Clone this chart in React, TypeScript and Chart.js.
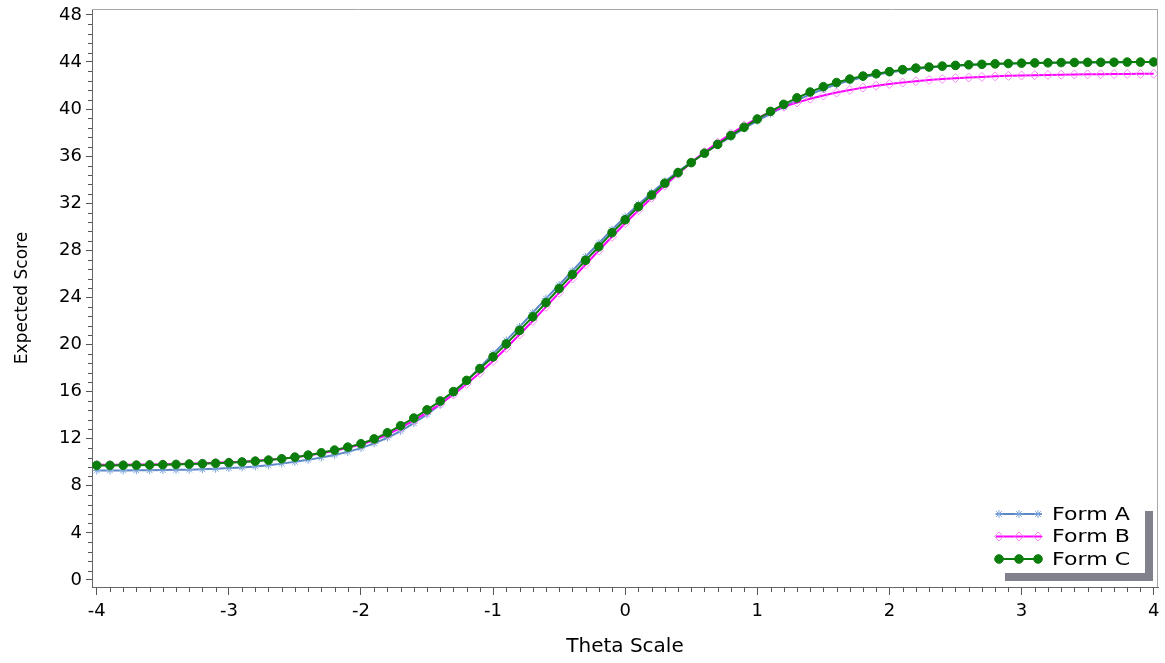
import React, { useEffect, useRef } from "react";
import { Chart, registerables } from "chart.js";
import { drawPoint } from "chart.js/helpers";

Chart.register(...registerables);

const THETA = [
  -4.0, -3.9, -3.8, -3.7, -3.6, -3.5, -3.4, -3.3, -3.2, -3.1,
  -3.0, -2.9, -2.8, -2.7, -2.6, -2.5, -2.4, -2.3, -2.2, -2.1,
  -2.0, -1.9, -1.8, -1.7, -1.6, -1.5, -1.4, -1.3, -1.2, -1.1,
  -1.0, -0.9, -0.8, -0.7, -0.6, -0.5, -0.4, -0.3, -0.2, -0.1,
  0.0, 0.1, 0.2, 0.3, 0.4, 0.5, 0.6, 0.7, 0.8, 0.9,
  1.0, 1.1, 1.2, 1.3, 1.4, 1.5, 1.6, 1.7, 1.8, 1.9,
  2.0, 2.1, 2.2, 2.3, 2.4, 2.5, 2.6, 2.7, 2.8, 2.9,
  3.0, 3.1, 3.2, 3.3, 3.4, 3.5, 3.6, 3.7, 3.8, 3.9,
  4.0,
];

const FORM_A = [
  9.30, 9.30, 9.30, 9.31, 9.32, 9.33, 9.35, 9.37, 9.40, 9.44,
  9.50, 9.56, 9.64, 9.74, 9.88, 10.03, 10.20, 10.40, 10.62, 10.88,
  11.20, 11.60, 12.08, 12.65, 13.32, 14.05, 14.90, 15.85, 16.90, 18.05,
  19.20, 20.35, 21.50, 22.70, 23.90, 25.05, 26.25, 27.45, 28.60, 29.75,
  30.85, 31.90, 32.90, 33.85, 34.70, 35.50, 36.25, 36.95, 37.65, 38.35,
  39.00, 39.60, 40.20, 40.75, 41.25, 41.70, 42.10, 42.42, 42.70, 42.92,
  43.10, 43.27, 43.41, 43.52, 43.61, 43.68, 43.74, 43.79, 43.83, 43.86,
  43.89, 43.91, 43.93, 43.94, 43.95, 43.96, 43.97, 43.98, 43.98, 43.99,
  43.99,
];

const FORM_B = [
  9.78, 9.78, 9.79, 9.80, 9.81, 9.83, 9.85, 9.88, 9.91, 9.95,
  10.00, 10.05, 10.12, 10.20, 10.30, 10.43, 10.58, 10.77, 10.98, 11.23,
  11.50, 11.88, 12.35, 12.92, 13.55, 14.22, 14.95, 15.75, 16.65, 17.60,
  18.60, 19.70, 20.85, 22.00, 23.20, 24.40, 25.60, 26.80, 27.98, 29.15,
  30.30, 31.40, 32.45, 33.50, 34.50, 35.45, 36.35, 37.15, 37.90, 38.60,
  39.20, 39.75, 40.20, 40.55, 40.87, 41.15, 41.40, 41.62, 41.82, 41.98,
  42.12, 42.25, 42.37, 42.47, 42.55, 42.62, 42.68, 42.73, 42.78, 42.82,
  42.85, 42.88, 42.90, 42.92, 42.94, 42.95, 42.96, 42.97, 42.98, 42.99,
  43.00,
];

const FORM_C = [
  9.73, 9.73, 9.74, 9.75, 9.77, 9.79, 9.81, 9.84, 9.87, 9.91,
  9.96, 10.02, 10.09, 10.18, 10.29, 10.43, 10.60, 10.80, 11.03, 11.28,
  11.57, 11.98, 12.50, 13.10, 13.75, 14.45, 15.20, 16.00, 16.95, 17.95,
  18.95, 20.05, 21.20, 22.35, 23.55, 24.75, 25.95, 27.15, 28.30, 29.50,
  30.60, 31.70, 32.70, 33.70, 34.60, 35.45, 36.25, 37.00, 37.75, 38.45,
  39.15, 39.80, 40.40, 40.95, 41.45, 41.90, 42.25, 42.55, 42.80, 43.00,
  43.18, 43.35, 43.48, 43.57, 43.65, 43.71, 43.76, 43.80, 43.84, 43.87,
  43.90, 43.92, 43.93, 43.95, 43.96, 43.97, 43.97, 43.98, 43.99, 43.99,
  44.00,
];

const SERIES_NAMES = ["Form A", "Form B", "Form C"];
const X_TICKS = [-4, -3, -2, -1, 0, 1, 2, 3, 4];
const Y_TICKS = [0, 4, 8, 12, 16, 20, 24, 28, 32, 36, 40, 44, 48];
const X_MINOR_PER_MAJOR = 10;
const Y_MINOR_PER_MAJOR = 5;

const FONT = '"DejaVu Sans", "Noto Sans", sans-serif';

const toPoints = (ys: number[]) => THETA.map((x, i) => ({ x, y: ys[i] }));

const framePlugin = {
  id: "frameAndMinorTicks",
  afterDraw(chart: any) {
    const { ctx, chartArea } = chart;
    const xs = chart.scales.x;
    const ys = chart.scales.y;
    ctx.save();
    ctx.strokeStyle = "#a8a8a8";
    ctx.lineWidth = 1;
    ctx.beginPath();
    ctx.moveTo(chartArea.left, Math.round(chartArea.top) + 0.5);
    ctx.lineTo(chartArea.right, Math.round(chartArea.top) + 0.5);
    ctx.moveTo(Math.round(chartArea.right) - 0.5, chartArea.top);
    ctx.lineTo(Math.round(chartArea.right) - 0.5, chartArea.bottom);
    ctx.stroke();
    ctx.strokeStyle = "#555";
    ctx.beginPath();
    for (let i = 0; i < X_TICKS.length - 1; i++) {
      const a = X_TICKS[i];
      const b = X_TICKS[i + 1];
      for (let k = 1; k < X_MINOR_PER_MAJOR; k++) {
        const v = a + ((b - a) * k) / X_MINOR_PER_MAJOR;
        const px = Math.round(xs.getPixelForValue(v)) + 0.5;
        ctx.moveTo(px, chartArea.bottom);
        ctx.lineTo(px, chartArea.bottom + 5);
      }
    }
    for (let i = 0; i < Y_TICKS.length - 1; i++) {
      const a = Y_TICKS[i];
      const b = Y_TICKS[i + 1];
      for (let k = 1; k < Y_MINOR_PER_MAJOR; k++) {
        const v = a + ((b - a) * k) / Y_MINOR_PER_MAJOR;
        const py = Math.round(ys.getPixelForValue(v)) + 0.5;
        ctx.moveTo(chartArea.left - 4, py);
        ctx.lineTo(chartArea.left, py);
      }
    }
    ctx.stroke();
    ctx.restore();
  },
};

const legendPlugin = {
  id: "insetLegend",
  afterDraw(chart: any) {
    const { ctx, chartArea } = chart;
    const boxW = 148;
    const boxH = 70;
    const boxR = chartArea.right - 13;
    const boxB = chartArea.bottom - 14;
    const boxL = boxR - boxW;
    const boxT = boxB - boxH;
    ctx.save();
    ctx.fillStyle = "#81818b";
    ctx.fillRect(boxL + 8, boxT + 8, boxW, boxH);
    ctx.fillStyle = "#ffffff";
    ctx.fillRect(boxL, boxT, boxW, boxH);
    chart.data.datasets.forEach((ds: any, i: number) => {
      const y = boxT + 11 + i * 22.5;
      ctx.strokeStyle = ds.borderColor;
      ctx.lineWidth = ds.borderWidth;
      ctx.beginPath();
      ctx.moveTo(boxL - 1, y);
      ctx.lineTo(boxL + 45, y);
      ctx.stroke();
      [2, 22, 41].forEach((dx) => {
        ctx.fillStyle = ds.pointBackgroundColor;
        ctx.strokeStyle = ds.pointBorderColor;
        ctx.lineWidth = ds.pointBorderWidth;
        drawPoint(
          ctx,
          {
            pointStyle: ds.pointStyle,
            radius: ds.pointRadius,
            rotation: 0,
            borderWidth: ds.pointBorderWidth,
          } as any,
          boxL + dx,
          y
        );
      });
      ctx.save();
      ctx.fillStyle = "#000";
      ctx.font = `17px ${FONT}`;
      ctx.textBaseline = "middle";
      ctx.textAlign = "left";
      ctx.translate(boxL + 55, y + 1.5);
      ctx.scale(1.3, 1);
      ctx.fillText(SERIES_NAMES[i], 0, 0);
      ctx.restore();
    });
    ctx.restore();
  },
};

export default function App() {
  const canvasRef = useRef<HTMLCanvasElement | null>(null);

  useEffect(() => {
    if (!canvasRef.current) return;
    Chart.defaults.font.family = FONT;
    const chart = new Chart(canvasRef.current, {
      type: "line",
      data: {
        datasets: [
          {
            label: SERIES_NAMES[0],
            data: toPoints(FORM_A),
            borderColor: "#5b87c5",
            borderWidth: 2,
            pointStyle: "star",
            pointRadius: 4,
            pointBorderWidth: 1,
            pointBorderColor: "#7fa7dd",
            pointBackgroundColor: "#7fa7dd",
            order: 2,
          },
          {
            label: SERIES_NAMES[1],
            data: toPoints(FORM_B),
            borderColor: "#ff00ff",
            borderWidth: 2,
            pointStyle: "rectRot",
            pointRadius: 4.5,
            pointBorderWidth: 1,
            pointBorderColor: "#f58cf5",
            pointBackgroundColor: "rgba(255,255,255,0)",
            order: 1,
          },
          {
            label: SERIES_NAMES[2],
            data: toPoints(FORM_C),
            borderColor: "#0b7d0b",
            borderWidth: 2,
            pointStyle: "circle",
            pointRadius: 4.3,
            pointBorderWidth: 1,
            pointBorderColor: "#0b7d0b",
            pointBackgroundColor: "#0b7d0b",
            order: 0,
          },
        ],
      } as any,
      options: {
        animation: false,
        responsive: true,
        maintainAspectRatio: false,
        layout: { padding: { top: 9, right: 7, left: 0, bottom: 0 } },
        plugins: {
          legend: { display: false },
          tooltip: { enabled: false },
        },
        elements: { line: { tension: 0 } },
        scales: {
          x: {
            type: "linear",
            min: -4.036,
            max: 4.033,
            afterBuildTicks: (s: any) => {
              s.ticks = X_TICKS.map((v) => ({ value: v }));
            },
            afterFit: (s: any) => {
              s.height = 76;
              s.paddingLeft = 0;
              s.paddingRight = 0;
              s.paddingTop = 0;
              s.paddingBottom = 0;
            },
            ticks: {
              autoSkip: false,
              maxRotation: 0,
              color: "#000",
              padding: 6,
              font: { size: 18, family: FONT },
              callback: (v: any) => String(v),
            },
            grid: {
              drawOnChartArea: false,
              drawTicks: true,
              tickLength: 8,
              tickColor: "#555",
            },
            border: { display: true, color: "#666", width: 1 },
            title: {
              display: true,
              text: "Theta Scale",
              color: "#000",
              font: { size: 20, family: FONT },
              padding: { top: 0, bottom: 4 },
            },
          },
          y: {
            type: "linear",
            min: -0.6,
            max: 48.5,
            afterBuildTicks: (s: any) => {
              s.ticks = Y_TICKS.map((v) => ({ value: v }));
            },
            afterFit: (s: any) => {
              s.width = 92;
              s.paddingLeft = 0;
              s.paddingRight = 0;
              s.paddingTop = 0;
              s.paddingBottom = 0;
            },
            ticks: {
              autoSkip: false,
              color: "#000",
              padding: 4,
              font: { size: 18, family: FONT },
              callback: (v: any) => String(v),
            },
            grid: {
              drawOnChartArea: false,
              drawTicks: true,
              tickLength: 6,
              tickColor: "#555",
            },
            border: { display: true, color: "#666", width: 1 },
            title: {
              display: true,
              text: "Expected Score",
              color: "#000",
              font: { size: 17, family: FONT },
              padding: { top: 12, bottom: 0 },
            },
          },
        },
      } as any,
      plugins: [framePlugin, legendPlugin],
    });
    return () => chart.destroy();
  }, []);

  return (
    <div
      style={{
        position: "fixed",
        left: 0,
        top: 0,
        width: 1165,
        height: 663,
        background: "#fff",
      }}
    >
      <canvas ref={canvasRef} />
    </div>
  );
}
